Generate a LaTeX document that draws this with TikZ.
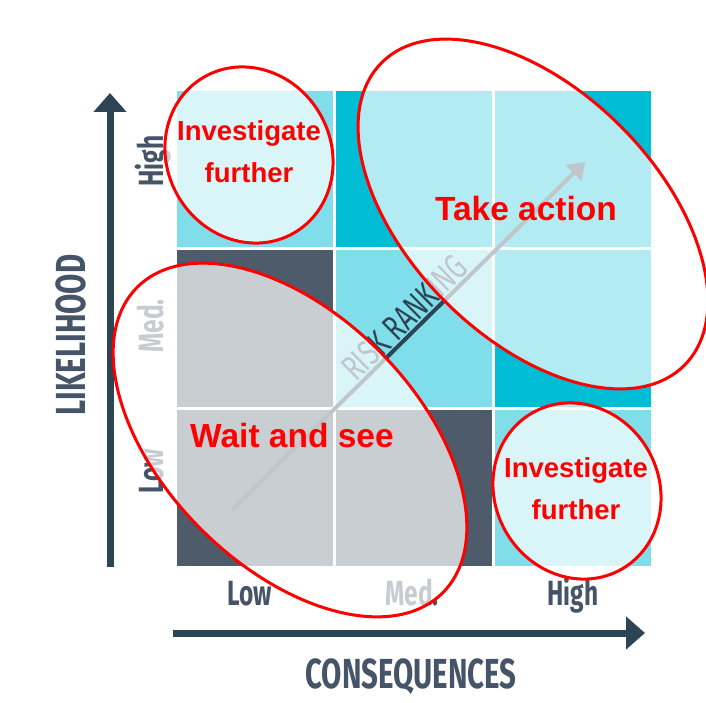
\documentclass[tikz,border=0pt]{standalone}
\usepackage{fontspec}
\setmainfont{Liberation Sans}
\newfontfamily\condfont[FakeStretch=0.7]{Fira Sans}
\usetikzlibrary{arrows.meta}
\definecolor{riskdark}{RGB}{0,188,212}
\definecolor{riskmid}{RGB}{128,222,234}
\definecolor{riskslate}{RGB}{77,91,107}
\definecolor{axisblue}{RGB}{44,68,84}
\definecolor{labelblue}{RGB}{70,84,104}
\definecolor{zonered}{RGB}{255,0,0}

\begin{document}
\begin{tikzpicture}[x=1pt, y=1pt,
  cell/.style={minimum size=156pt, inner sep=0pt},
  axis/.style={line width=7pt, axisblue, -{Triangle[width=32pt,length=19pt]}},
  ticklabel/.style={text=labelblue, inner sep=0pt, font=\condfont\bfseries\fontsize{35}{35}\selectfont},
  axistitle/.style={text=labelblue, inner sep=0pt, font=\condfont\bfseries\fontsize{42}{42}\selectfont},
  riskline/.style={line width=4pt, axisblue, -{Triangle[width=22pt,length=16pt]}},
  zone/.style={draw=zonered, line width=3pt, fill=white, fill opacity=0.7},
  bigzone/.style={text=zonered, inner sep=0pt, font=\bfseries\fontsize{33.5}{33.5}\selectfont},
  smallzone/.style={text=zonered, align=center, inner sep=0pt, font=\bfseries\fontsize{27.5}{42}\selectfont}]
\useasboundingbox (0,0) rectangle (706,702);

% Risk matrix cells
\node[cell, fill=riskmid] (c-l-h) at (254.5,532.5) {};
\node[cell, fill=riskdark] (c-m-h) at (413.5,532.5) {};
\node[cell, fill=riskdark] (c-h-h) at (572.5,532.5) {};
\node[cell, fill=riskslate] (c-l-m) at (254.5,373.5) {};
\node[cell, fill=riskmid] (c-m-m) at (413.5,373.5) {};
\node[cell, fill=riskdark] (c-h-m) at (572.5,373.5) {};
\node[cell, fill=riskslate] (c-l-l) at (254.5,214.5) {};
\node[cell, fill=riskslate] (c-m-l) at (413.5,214.5) {};
\node[cell, fill=riskmid] (c-h-l) at (572.5,214.5) {};

% Axes
\coordinate (yfoot) at (110,135);
\coordinate (ytip) at (110,609);
\coordinate (xfoot) at (173,69);
\coordinate (xtip) at (645,69);
\draw[axis] (yfoot) -- (ytip);
\draw[axis] (xfoot) -- (xtip);
\node[axistitle, rotate=90, anchor=base] (likelihood) at (85,367) {LIKELIHOOD};
\node[axistitle, anchor=base] (consequences) at (411,14) {CONSEQUENCES};

% Tick labels
\node[ticklabel, rotate=90, anchor=base] (lik-h) at (163,541) {High};
\node[ticklabel, rotate=90, anchor=base] (lik-m) at (163,376) {Med.};
\node[ticklabel, rotate=90, anchor=base] (lik-l) at (163,231) {Low};
\node[ticklabel, anchor=base] (con-l) at (250,97) {Low};
\node[ticklabel, anchor=base] (con-m) at (412,97) {Med.};
\node[ticklabel, anchor=base] (con-h) at (573,97) {High};

% Risk ranking arrow
\coordinate (rlow) at (232,192);
\coordinate (rhigh) at (585,540);
\draw[riskline] (rlow) -- node[pos=0.52, sloped, above, inner sep=1pt, text=axisblue,
  font=\condfont\fontsize{36}{36}\selectfont] (risktext) {RISK RANKING} (rhigh);

% Zones
\draw[zone, shift={(249,547)}, rotate=-60] (0,0) ellipse [x radius=90pt, y radius=82pt];
\draw[zone, shift={(577,211)}, rotate=-60] (0,0) ellipse [x radius=90pt, y radius=82pt];
\draw[zone, shift={(533,488)}, rotate=-45] (0,0) ellipse [x radius=214pt, y radius=124pt];
\draw[zone, shift={(290,262)}, rotate=-45] (0,0) ellipse [x radius=216pt, y radius=126pt];

\node[smallzone] (inv-tl) at (249,550) {Investigate\\further};
\node[smallzone] (inv-br) at (576,213) {Investigate\\further};
\node[bigzone, anchor=base] (act) at (526,481) {Take action};
\node[bigzone, anchor=base] (wait) at (292,255) {Wait and see};
\end{tikzpicture}
\end{document}
